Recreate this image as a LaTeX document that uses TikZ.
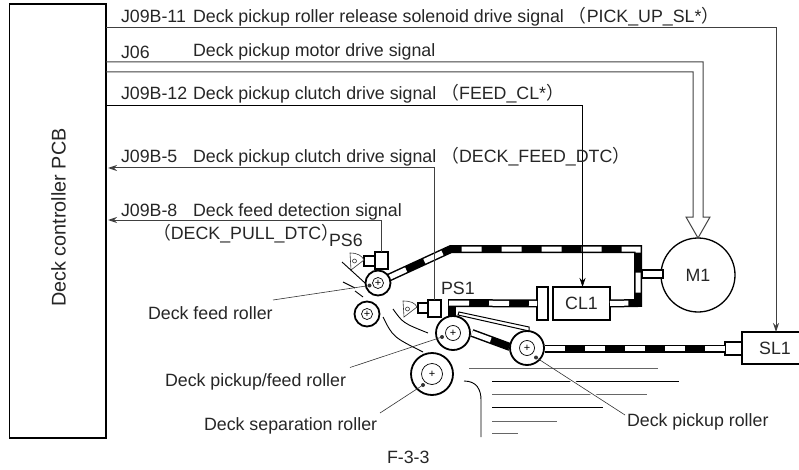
\documentclass[tikz,border=0pt]{standalone}
\usepackage{fontspec}
\usepackage{tikz}
\usetikzlibrary{arrows.meta,calc}
\setmainfont{Liberation Sans}
\newfontfamily\cjk{Noto Sans CJK JP}

\begin{document}
\begin{tikzpicture}[x=1pt,y=-1pt,line join=miter,
box/.style={draw,rectangle,line width=1.3pt,fill=white,inner sep=0pt,outer sep=0pt,text=black!85,font=\fontsize{17.8}{20}\selectfont},
lbl/.style={anchor=base west,inner sep=0pt,outer sep=0pt,text=black!85,font=\fontsize{17.8}{20}\selectfont},
rollerout/.style={draw,circle,line width=1.8pt,fill=white,inner sep=0pt,outer sep=0pt},
rollerin/.style={draw,circle,line width=0.7pt,fill=white,inner sep=0pt,outer sep=0pt,font=\fontsize{11}{11}\selectfont},
belt/.style={draw=black,line width=8pt,postaction={draw=white,line width=5pt,dash pattern=on 20pt off 20pt}},
sig/.style={draw=black!75,line width=1pt},
sigthin/.style={draw=black,line width=0.7pt},
flag/.style={draw=black!80,line width=0.6pt,fill=white},
guide/.style={draw=black,line width=0.9pt},
leader/.style={draw=black!80,line width=0.6pt},
dotmark/.style={draw=none,circle,fill=black!80,minimum size=4pt,inner sep=0pt,outer sep=0pt},
sigtip/.style={-{Stealth[length=9pt,width=6pt]}}]
\useasboundingbox (0,0) rectangle (799,470);

% PCB and drive parts
\node[box,minimum width=96.5pt,minimum height=434pt] (pcb) at (57.75,221) {};
\node[lbl,anchor=base,rotate=90,font=\fontsize{19.8}{22}\selectfont] (pcbtext) at (65.5,217.5) {Deck controller PCB};
\node[box,circle,minimum size=74pt] (m1) at (698,275) {M1};
\node[box,minimum width=57pt,minimum height=33pt] (cl1) at (581.5,303.5) {CL1};
\node[box,minimum width=11pt,minimum height=33pt] (plate) at (542.5,303.5) {};
\node[box,minimum width=21pt,minimum height=8pt] (shaft) at (652.5,274) {};
\node[minimum width=57pt,minimum height=32pt,inner sep=0pt,outer sep=0pt,text=black!85,font=\fontsize{17.8}{20}\selectfont] (sl1) at (770.5,348) {\hspace*{9pt}SL1};
\draw[line width=1.3pt] (sl1.north east) -- (sl1.north west) -- (sl1.south west) -- (sl1.south east);
\node[box,minimum width=17pt,minimum height=13pt] (sl1tab) at (733.5,348.5) {};

% belts
\coordinate (upstart) at (388,278);
\coordinate (upbend) at (451,249);
\coordinate (upcorner) at (638,249);
\coordinate (upright) at (638,303);
\coordinate (lowstub) at (452,318);
\coordinate (lowbend) at (449,303);
\coordinate (armstart) at (472,333);
\coordinate (armend) at (510,347);
\draw[belt] (upstart) -- (upbend) -- (upcorner) -- (upright) -- (cl1.east);
\draw[line width=8pt] (lowstub) -- (452,299);
\draw[belt] (lowbend) -- (plate.west);
\draw[belt] (armstart) -- (armend);
\draw[belt] (545,348.5) -- (sl1tab.west);
\draw[line width=1pt,fill=white] (459,312) -- (529,327) -- (529,331) -- (458,315) -- cycle;

% rollers
\node[rollerout,minimum size=25pt] (feedout) at (378,283) {};
\node[rollerin,minimum size=11pt] (feedin) at (378,283) {+};
\node[rollerout,minimum size=25pt] (lowerout) at (367,314) {};
\node[rollerin,minimum size=11pt] (lowerin) at (367,314) {+};
\node[rollerout,minimum size=34pt] (pfout) at (453,333) {};
\node[rollerin,minimum size=15pt] (pfin) at (453,333) {+};
\node[rollerout,minimum size=34pt] (pickout) at (527,348) {};
\node[rollerin,minimum size=15pt] (pickin) at (527,348) {+};
\node[rollerout,minimum size=42pt] (sepout) at (432,374) {};
\node[rollerin,minimum size=21pt] (sepin) at (432,374) {+};

% sensors
\node[box,minimum width=13pt,minimum height=17pt] (ps6box) at (381.5,260.5) {};
\node[box,minimum width=11pt,minimum height=10pt] (ps6tab) at (369.5,261) {};
\draw[flag] (350,253) .. controls (358,253) and (362,256) .. (364,260) -- (351,270) -- cycle;
\node[flag,circle,minimum size=4pt,inner sep=0pt] (ps6pin) at (354.5,261) {};
\node[box,minimum width=13pt,minimum height=17pt] (ps1box) at (434.5,308.5) {};
\node[box,minimum width=10pt,minimum height=10pt] (ps1tab) at (423,308) {};
\draw[flag] (403,301) .. controls (411,301) and (415,303) .. (417,307) -- (404,317) -- cycle;
\node[flag,circle,minimum size=4pt,inner sep=0pt] (ps1pin) at (407.5,309) {};

% guides and paper
\draw[guide] (342,262) -- (365,283);
\draw[guide] (343,282) -- (355,288);
\draw[guide] (355,291) -- (363,297);
\draw[guide] (393,309) .. controls (403,323) .. (428,333);
\draw[guide] (383,317) .. controls (393,337) .. (423,352);
\draw[guide] (464,381) .. controls (477,381) and (481,390) .. (481,400) -- (481,437);
\draw[draw=black!60,line width=1pt] (469,368) -- (658,368);
\draw[draw=black,line width=0.8pt] (492,381) -- (679,381);
\draw[draw=black!60,line width=1pt] (492,394) -- (647,394);
\draw[draw=black,line width=0.8pt] (492,407) -- (603,407);
\draw[draw=black!60,line width=0.8pt] (492,421) -- (557,421);
\draw[draw=black!60,line width=0.8pt] (492,433) -- (518,433);

% signal lines
\coordinate (j11) at (pcb.east |- 0,28);
\coordinate (j06a) at (pcb.east |- 0,62);
\coordinate (j06b) at (pcb.east |- 0,72);
\coordinate (j12) at (pcb.east |- 0,105);
\coordinate (j05) at (108,168);
\coordinate (j08) at (108,220);
\coordinate (sl1top) at (776,332);
\coordinate (cl1top) at (582.5,287);
\draw[sig,sigtip] (j11) -| (sl1top);
\draw[sig] (j06a) -- (703,62) -- (703,217) -- (710,217) -- (m1.north) -- (686,217) -- (693,217) -- (693,72) -- (j06b);
\draw[sigthin,sigtip] (j12) -| (cl1top);
\draw[sig,sigtip] (ps1box.north) |- (j05);
\draw[sig,sigtip] (ps6box.north) |- (j08);

% labels
\node[lbl] (t11) at (121,22.5) {J09B-11};
\node[lbl] (s11) at (193,22.5) {Deck pickup roller release solenoid drive signal {\cjk（}PICK\_UP\_SL*{\cjk）}};
\node[lbl] (t06) at (121,59) {J06};
\node[lbl] (s06) at (193,57) {Deck pickup motor drive signal};
\node[lbl] (t12) at (121,100) {J09B-12};
\node[lbl] (s12) at (193,100) {Deck pickup clutch drive signal {\cjk（}FEED\_CL*{\cjk）}};
\node[lbl] (t05) at (121,163) {J09B-5};
\node[lbl] (s05) at (193,163) {Deck pickup clutch drive signal {\cjk（}DECK\_FEED\_DTC{\cjk）}};
\node[lbl] (t08) at (121,216) {J09B-8};
\node[lbl] (s08) at (193,216) {Deck feed detection signal};
\node[lbl] (s08b) at (153,239) {{\cjk（}DECK\_PULL\_DTC{\cjk）}\hspace*{-9pt}};
\node[lbl] (ps6) at (329,246) {PS6};
\node[lbl] (ps1) at (441,294) {PS1};
\node[lbl] (feedlbl) at (148,319) {Deck feed roller};
\node[lbl] (pflbl) at (165,386) {Deck pickup/feed roller};
\node[lbl] (seplbl) at (204,430) {Deck separation roller};
\node[lbl] (picklbl) at (627,426) {Deck pickup roller};
\node[lbl] (fig) at (387,463) {F-3-3};

% leaders
\node[dotmark] (feeddot) at (369.5,285.5) {};
\node[dotmark] (pfdot) at (442,337) {};
\node[dotmark] (sepdot) at (423,385) {};
\node[dotmark] (pickdot) at (536,357.5) {};
\coordinate (feedend) at (273,300);
\coordinate (pfend) at (350,367.5);
\coordinate (sepend) at (380,413);
\coordinate (pickend) at (625,415);
\draw[leader] (feeddot) -- (feedend);
\draw[leader] (pfdot) -- (pfend);
\draw[leader] (sepdot) -- (sepend);
\draw[draw=white,line width=3pt] ($(pickdot)!0.35!(pickend)$) -- ($(pickdot)!0.8!(pickend)$);
\draw[leader] (pickdot) -- (pickend);
\end{tikzpicture}
\end{document}
